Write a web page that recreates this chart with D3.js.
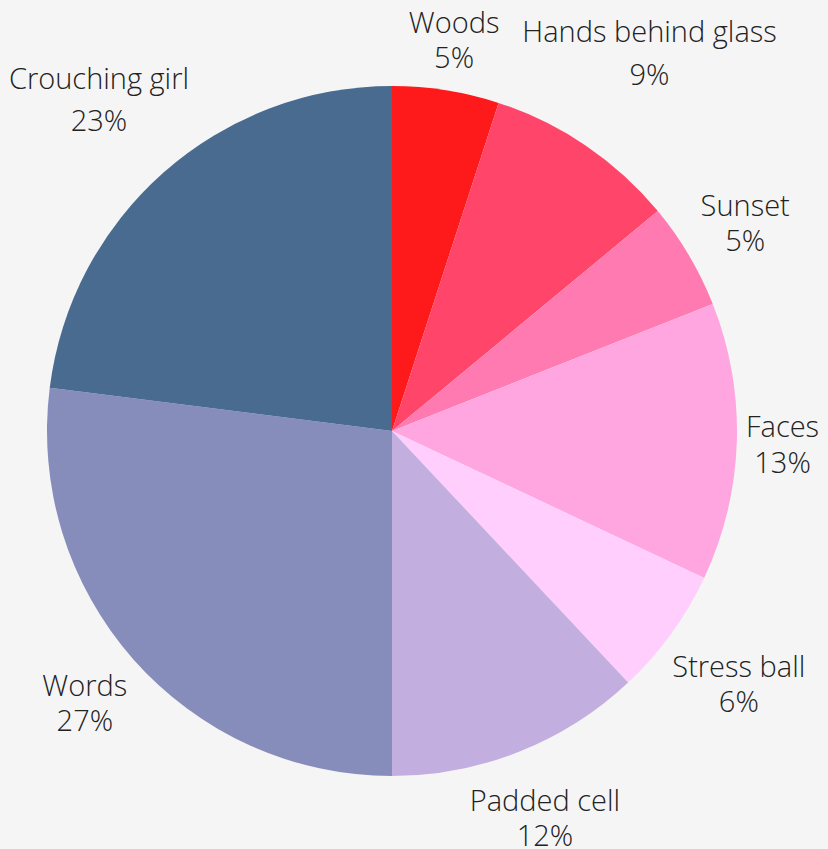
<!DOCTYPE html>
<html>
<head>
<meta charset="utf-8">
<script src="https://cdn.jsdelivr.net/npm/d3@7"></script>
<style>
  html, body { margin: 0; padding: 0; background: #f5f5f5; }
  svg { display: block; }
  text { font-family: "Open Sans", sans-serif; font-weight: 300; fill: #222; }
</style>
</head>
<body>
<svg id="chart" width="828" height="849"></svg>
<script>
// Slices, clockwise from 12 o'clock
const categories = ["Woods", "Hands behind glass", "Sunset", "Faces", "Stress ball", "Padded cell", "Words", "Crouching girl"];
const shares = [5, 9, 5, 13, 6, 12, 27, 23];
const colors = ["#fe1a1a", "#ff4569", "#ff7ab0", "#ffa6e0", "#ffcefc", "#c3aee0", "#868dbb", "#4a6b90"];

const width = 828, height = 849;
const cx = 392, cy = 431, radius = 345;
const labelGap = 8;
const fontSize = 29, lineGap = 35.5;

const data = categories.map((c, i) => ({ name: c, value: shares[i], color: colors[i] }));

const svg = d3.select("#chart");
svg.append("rect").attr("width", width).attr("height", height).attr("fill", "#f5f5f5");

const g = svg.append("g").attr("transform", `translate(${cx},${cy})`);

const pie = d3.pie().sort(null).value(d => d.value);
const arc = d3.arc().innerRadius(0).outerRadius(radius);
const arcs = pie(data);

g.selectAll("path.slice")
  .data(arcs)
  .join("path")
  .attr("class", "slice")
  .attr("d", arc)
  .attr("fill", d => d.data.color);

// Ink descent of the first line decides where the percentage line starts
const ctx = document.createElement("canvas").getContext("2d");
ctx.font = `300 ${fontSize}px "Open Sans", sans-serif`;
const descent = s => Math.max(0, ctx.measureText(s).actualBoundingBoxDescent || 0);

// Labels sit along each slice's mid-angle, pushed out until their box clears the rim
const labels = g.selectAll("text.label")
  .data(arcs)
  .join("text")
  .attr("class", "label")
  .attr("text-anchor", "middle")
  .style("font-size", fontSize + "px");

labels.append("tspan").attr("x", 0).attr("y", 0).text(d => d.data.name);
labels.append("tspan").attr("x", 0).attr("y", d => descent(d.data.name) + lineGap).text(d => d.data.value + "%");

labels.each(function(d) {
  const bb = this.getBBox();
  const mid = (d.startAngle + d.endAngle) / 2;
  const sx = Math.sin(mid), sy = -Math.cos(mid);
  const hw = bb.width / 2, hh = bb.height / 2;
  const dist = radius + labelGap + Math.abs(sx) * hw + Math.abs(sy) * hh;
  const px = sx * dist, py = sy * dist;
  const ox = bb.x + hw, oy = bb.y + hh;
  d3.select(this).attr("transform", `translate(${px - ox},${py - oy})`);
});
</script>
</body>
</html>
